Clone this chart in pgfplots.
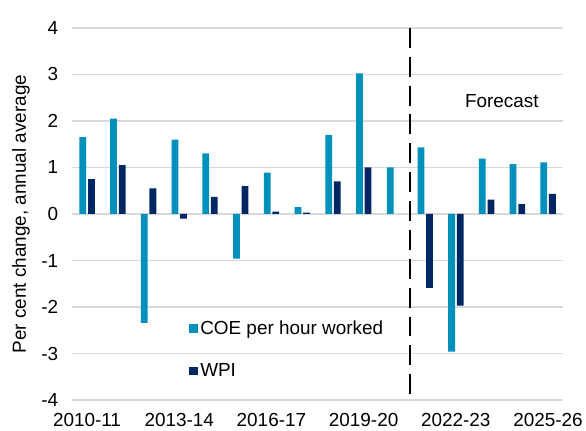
\documentclass[border=0pt]{standalone}
\usepackage{fontspec}
\setmainfont{Liberation Sans}
\usepackage{pgfplots}
\pgfplotsset{compat=1.18}
\definecolor{coeblue}{HTML}{0090BC}
\definecolor{wpinavy}{HTML}{002664}
\definecolor{gridgray}{HTML}{D9D9D9}
\newcommand{\chartfont}{\fontsize{19bp}{22bp}\selectfont}

\begin{document}
\begin{tikzpicture}
\begin{axis}[
  scale only axis, width=494bp, height=374bp,
  xmin=-0.5, xmax=15.5, ymin=-4, ymax=4,
  xtick={0,3,...,15},
  xticklabels={2010-11,2013-14,2016-17,2019-20,2022-23,2025-26},
  ytick={-4,...,4},
  yticklabels={-4,-3,-2,-1,0,1,2,3,4},
  ymajorgrids, grid style={draw=gridgray, line width=1.5bp},
  axis line style={draw=none},
  major tick length=0pt,
  tick label style={font=\chartfont, text=black},
  yticklabel style={xshift=-10bp},
  xticklabel style={yshift=-10bp},
  ylabel={Per cent change, annual average},
  every axis y label/.style={at={(rel axis cs:0,0.5)}, xshift=-51bp, rotate=90, anchor=center, font=\chartfont},
  clip=false,
  legend image code/.code={\fill[#1] (0bp,-4.5bp) rectangle (9bp,4.5bp);},
  legend style={at={(rel axis cs:0.2389,0.136)}, anchor=west, draw=none, fill=none,
    inner sep=0pt, row sep=24bp, font=\chartfont, cells={anchor=west}},
]
\addplot[ybar, bar width=6.8bp, bar shift=-4.2bp, fill=coeblue, draw=none] coordinates {
  (0,1.65)(1,2.05)(2,-2.34)(3,1.60)(4,1.30)(5,-0.96)(6,0.89)(7,0.15)
  (8,1.70)(9,3.02)(10,1.00)(11,1.43)(12,-2.96)(13,1.19)(14,1.07)(15,1.11)};
\addplot[ybar, bar width=6.8bp, bar shift=4.4bp, fill=wpinavy, draw=none] coordinates {
  (0,0.75)(1,1.05)(2,0.55)(3,-0.10)(4,0.37)(5,0.60)(6,0.05)(7,0.03)
  (8,0.70)(9,1.00)(11,-1.59)(12,-1.97)(13,0.31)(14,0.21)(15,0.43)};
\legend{COE per hour worked, WPI}
\draw[black, line width=2bp, dash pattern=on 20bp off 9bp] (axis cs:10.5,4) -- (axis cs:10.5,-4);
\node[font=\chartfont] at (axis cs:13.5,2.42) {Forecast};
\end{axis}
\path (current axis.south west) ++(-72bp,-30bp) coordinate (bl);
\path (current axis.north east) ++(20bp,28bp) coordinate (tr);
\path (bl) rectangle (tr);
\end{tikzpicture}
\end{document}
